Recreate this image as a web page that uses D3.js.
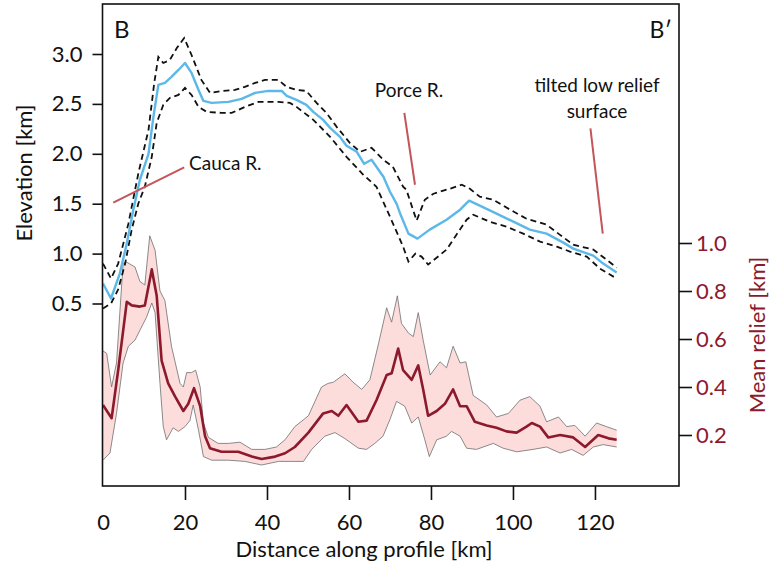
<!DOCTYPE html>
<html><head><meta charset="utf-8">
<script src="https://cdn.jsdelivr.net/npm/d3@7"></script>
<style>
html,body{margin:0;padding:0;background:#fff;}
svg{display:block;font-family:Lato,"Open Sans",sans-serif;}
</style></head>
<body><svg id="chart" width="777" height="571"></svg>
<script>
// ---- data: [distance km, value km] ----
const elevMean = [[0,0.70],[1.95,0.55],[4.1,0.80],[5.8,1.10],[7.4,1.44],[9.0,1.74],[11.1,2.0],[12.3,2.37],[13.5,2.69],[15.1,2.71],[16.7,2.77],[18.4,2.84],[20,2.91],[21.6,2.81],[23.3,2.64],[24.5,2.53],[26.5,2.51],[30.6,2.52],[33.8,2.55],[37.1,2.61],[40.3,2.63],[43.6,2.63],[44.8,2.58],[47.2,2.54],[49.6,2.49],[51.3,2.42],[53.7,2.34],[55.4,2.26],[57.8,2.17],[59.4,2.08],[61.9,2.02],[63.7,1.90],[65.5,1.94],[68.4,1.77],[70,1.62],[71.6,1.50],[72.4,1.41],[74.5,1.20],[76.7,1.15],[79.7,1.24],[83.8,1.34],[87.1,1.44],[89.3,1.53],[91.9,1.48],[96,1.40],[100.1,1.32],[104.1,1.24],[108.2,1.20],[112.3,1.11],[114.7,1.05],[119.6,0.98],[122,0.90],[125.3,0.81]];
const elevUpper = [[0,0.90],[1.95,0.75],[3.7,0.90],[6.2,1.30],[8.6,1.80],[11.1,2.24],[12.5,2.71],[13.5,2.97],[14.7,2.91],[16.3,2.94],[18,3.06],[19.8,3.16],[21.6,2.99],[24,2.74],[26.1,2.61],[28.9,2.63],[32.2,2.64],[34.6,2.67],[37.1,2.71],[39.5,2.74],[42.8,2.74],[44.8,2.67],[47.2,2.64],[49.6,2.63],[52.1,2.51],[54.5,2.41],[57,2.27],[60.2,2.11],[62.7,2.02],[65.5,2.06],[68.4,1.94],[70.7,1.87],[73.2,1.67],[74,1.64],[76.5,1.33],[78.5,1.54],[80.6,1.60],[84.6,1.65],[87.5,1.69],[89.5,1.65],[91.9,1.57],[95.2,1.54],[99.3,1.44],[103.3,1.35],[108.2,1.29],[111.4,1.19],[114.7,1.09],[119.6,1.04],[122.8,0.94],[125.3,0.86]];
const elevLower = [[0,0.45],[1.95,0.50],[3.7,0.64],[5.4,0.90],[7,1.24],[8.6,1.50],[10.2,1.67],[11.9,1.97],[13.1,2.31],[14.7,2.49],[16.3,2.56],[18.4,2.59],[20,2.66],[21.6,2.59],[23.3,2.47],[25.3,2.42],[28.9,2.41],[31.4,2.41],[34.6,2.47],[37.9,2.52],[42.8,2.52],[45.6,2.51],[47.2,2.47],[51.3,2.34],[55.4,2.17],[59.4,1.97],[63.5,1.79],[66.7,1.67],[70,1.37],[73.2,1.07],[74.5,0.92],[76.2,1.00],[77.7,0.97],[79.3,0.89],[83.8,1.04],[85.9,1.17],[88.7,1.34],[90.3,1.39],[94.3,1.32],[98.4,1.27],[102.5,1.20],[106.6,1.12],[110.7,1.07],[113.9,1.02],[118,0.97],[121.2,0.85],[125.3,0.75]];
const reliefMean = [[0,0.325],[2.1,0.27],[3.7,0.47],[5.8,0.755],[7,0.74],[9,0.735],[10.2,0.74],[11.9,0.89],[13.1,0.78],[14.3,0.51],[15.9,0.415],[17.6,0.36],[19.6,0.30],[20.8,0.33],[22.2,0.395],[23.7,0.32],[24.9,0.195],[26.1,0.145],[28.9,0.13],[33,0.13],[36.3,0.11],[38.7,0.10],[42,0.11],[44.4,0.124],[46.8,0.15],[50.1,0.21],[53.7,0.29],[55.8,0.30],[57.4,0.28],[59.4,0.325],[62.3,0.255],[64.3,0.26],[66.7,0.345],[69.2,0.45],[70.4,0.457],[72,0.56],[73.2,0.47],[75.3,0.43],[76.9,0.49],[78.1,0.39],[79.3,0.28],[81.4,0.30],[83.4,0.33],[85.4,0.39],[87.1,0.32],[88.7,0.32],[90.7,0.255],[93.6,0.24],[96,0.23],[98.4,0.215],[100.9,0.21],[103.3,0.235],[104.6,0.25],[106.6,0.235],[108.6,0.19],[111.5,0.20],[114.7,0.19],[117.6,0.15],[120.8,0.20],[123.3,0.186],[125.3,0.18]];
const reliefUpper = [[0,0.55],[0.9,0.54],[2.1,0.40],[3.3,0.50],[4.9,0.915],[5.8,0.92],[7.8,0.90],[9,0.84],[10.2,0.825],[11.4,1.03],[12.7,0.97],[13.9,0.80],[15.1,0.76],[16.7,0.57],[18.8,0.415],[19.6,0.40],[20.4,0.46],[21.6,0.46],[22.6,0.47],[23.7,0.40],[24.5,0.25],[25.7,0.19],[28.1,0.165],[30.6,0.165],[33.4,0.17],[36.3,0.14],[39.5,0.14],[42.3,0.15],[44.4,0.18],[46.8,0.235],[50.1,0.28],[53.3,0.40],[54.9,0.415],[56.2,0.42],[59,0.455],[61,0.42],[63.1,0.39],[65.1,0.43],[67.2,0.58],[69.2,0.73],[70.4,0.67],[71.8,0.78],[72.8,0.665],[74.5,0.625],[75.7,0.61],[76.9,0.71],[78.1,0.595],[79.8,0.45],[82.2,0.505],[83.8,0.48],[85.4,0.57],[87.1,0.50],[88.5,0.505],[90.3,0.365],[93.6,0.325],[96,0.275],[98.9,0.29],[101.7,0.345],[104.1,0.36],[106.6,0.32],[108.2,0.255],[111.1,0.275],[113.1,0.235],[115.1,0.24],[117.6,0.195],[120.4,0.25],[122.8,0.235],[125.3,0.22]];
const reliefLower = [[0,0.095],[1.7,0.125],[3.3,0.29],[4.9,0.50],[6.2,0.57],[7.8,0.595],[9.4,0.65],[10.6,0.69],[11.9,0.75],[12.7,0.71],[13.9,0.415],[14.7,0.235],[15.5,0.18],[17.1,0.23],[18.4,0.215],[20,0.235],[21.2,0.26],[22,0.325],[23.3,0.22],[24.5,0.11],[26.5,0.095],[30.6,0.095],[34.6,0.09],[38.7,0.075],[42.8,0.09],[46.8,0.09],[48.9,0.09],[50.9,0.14],[54.1,0.195],[56.6,0.21],[59,0.185],[62.3,0.145],[64.3,0.14],[66.3,0.165],[68.3,0.195],[70,0.265],[71.6,0.34],[73.6,0.32],[75.3,0.25],[76.9,0.275],[78.5,0.18],[79.6,0.11],[81.4,0.18],[83.8,0.195],[85,0.215],[87.1,0.195],[88.7,0.145],[91.1,0.14],[95.2,0.165],[97.6,0.145],[100.9,0.13],[104.9,0.14],[108.2,0.15],[111.5,0.125],[114.3,0.14],[117.1,0.115],[119.6,0.15],[122,0.16],[125.3,0.15]];

const xTicks = [0,20,40,60,80,100,120];
const elevTicks = [0.5,1.0,1.5,2.0,2.5,3.0];
const reliefTicks = [0.2,0.4,0.6,0.8,1.0];

// annotations in data units (distance km, elevation km)
const annotLines = [
  {from:[2.5,1.51], to:[19.8,1.865]},
  {from:[73.5,2.41], to:[76.1,1.69]},
  {from:[118.9,2.255], to:[121.9,1.20]}
];
const annotTexts = [
  {lines:["Cauca R."], at:[21.0,1.84], anchor:"start"},
  {lines:["Porce R."], at:[66.3,2.57], anchor:"start"},
  {lines:["tilted low relief","surface"], at:[120.5,2.62], anchor:"middle"}
];

// ---- layout ----
const svg = d3.select("#chart");
const box = {left:102.5, right:679, top:4, bottom:486};
const x = d3.scaleLinear().domain([0,140.5]).range([103,679]);
const yE = d3.scaleLinear().domain([0.5,3.0]).range([303.5,54]);
const yR = d3.scaleLinear().domain([0.2,1.0]).range([435,243]);

const red = "#8c1a2c";
const annotRed = "#c4555a";

// relief band
const bandPts = reliefUpper.map(d=>[x(d[0]),yR(d[1])]).concat(reliefLower.slice().reverse().map(d=>[x(d[0]),yR(d[1])]));
svg.append("path").attr("d", d3.line()(bandPts)+"Z")
  .attr("fill","#fddcdc").attr("stroke","none");
const lineR = d3.line().x(d=>x(d[0])).y(d=>yR(d[1]));
[reliefUpper, reliefLower].forEach(s=>{
  svg.append("path").attr("d", lineR(s)).attr("fill","none").attr("stroke","#6e6e6e").attr("stroke-width",0.8);
});
svg.append("path").attr("d", lineR(reliefMean)).attr("fill","none").attr("stroke",red).attr("stroke-width",2.6).attr("stroke-linejoin","round");

// elevation
const lineE = d3.line().x(d=>x(d[0])).y(d=>yE(d[1]));
[elevUpper, elevLower].forEach(s=>{
  svg.append("path").attr("d", lineE(s)).attr("fill","none").attr("stroke","#111")
    .attr("stroke-width",1.8).attr("stroke-dasharray","6,4");
});
svg.append("path").attr("d", lineE(elevMean)).attr("fill","none").attr("stroke","#5cb8e8").attr("stroke-width",2.4).attr("stroke-linejoin","round");

// box
svg.append("rect").attr("x",box.left).attr("y",box.top).attr("width",box.right-box.left).attr("height",box.bottom-box.top)
  .attr("fill","none").attr("stroke","#111").attr("stroke-width",1.6);

// x axis
const gx = svg.append("g").attr("transform",`translate(0,${box.bottom})`)
  .call(d3.axisBottom(x).tickValues(xTicks).tickSize(14).tickPadding(14).tickFormat(d3.format("d")));
gx.select(".domain").remove();
gx.selectAll(".tick line").attr("stroke","#111").attr("stroke-width",1.6).filter(d=>d===0).remove();
gx.selectAll(".tick text").attr("font-size",22).attr("fill","#111").attr("font-family","Lato");
svg.append("text").attr("x",364).attr("y",557).attr("text-anchor","middle").attr("font-size",22).attr("fill","#111")
  .text("Distance along profile [km]");

// left axis
const gl = svg.append("g").attr("transform",`translate(${box.left},0)`)
  .call(d3.axisLeft(yE).tickValues(elevTicks).tickSize(10).tickPadding(10).tickFormat(d3.format(".1f")));
gl.select(".domain").remove();
gl.selectAll(".tick line").attr("stroke","#111").attr("stroke-width",1.6);
gl.selectAll(".tick text").attr("font-size",22).attr("fill","#111").attr("font-family","Lato");
svg.append("text").attr("transform","translate(32,173) rotate(-90)").attr("text-anchor","middle").attr("font-size",22).attr("fill","#111")
  .text("Elevation [km]");

// right axis
const gr = svg.append("g").attr("transform",`translate(${box.right},0)`)
  .call(d3.axisRight(yR).tickValues(reliefTicks).tickSize(13).tickPadding(4).tickFormat(d3.format(".1f")));
gr.select(".domain").remove();
gr.selectAll(".tick line").attr("stroke","#111").attr("stroke-width",1.6);
gr.selectAll(".tick text").attr("font-size",22).attr("fill",red).attr("font-family","Lato");
svg.append("text").attr("transform","translate(765,335) rotate(-90)").attr("text-anchor","middle").attr("font-size",22).attr("fill",red)
  .text("Mean relief [km]");

// panel letters
svg.append("text").attr("x",114).attr("y",38).attr("font-size",24).attr("fill","#111").text("B");
svg.append("text").attr("x",672).attr("y",38).attr("text-anchor","end").attr("font-size",23).attr("fill","#111").text("B\u2032");

// annotations
annotLines.forEach(a=>{
  svg.append("line").attr("x1",x(a.from[0])).attr("y1",yE(a.from[1])).attr("x2",x(a.to[0])).attr("y2",yE(a.to[1]))
    .attr("stroke",annotRed).attr("stroke-width",2);
});
annotTexts.forEach(a=>{
  const t = svg.append("text").attr("x",x(a.at[0])).attr("y",yE(a.at[1])).attr("text-anchor",a.anchor)
    .attr("font-size",19).attr("fill","#111");
  a.lines.forEach((l,i)=>t.append("tspan").attr("x",x(a.at[0])).attr("dy",i===0?0:25.6).text(l));
});
</script></body></html>
